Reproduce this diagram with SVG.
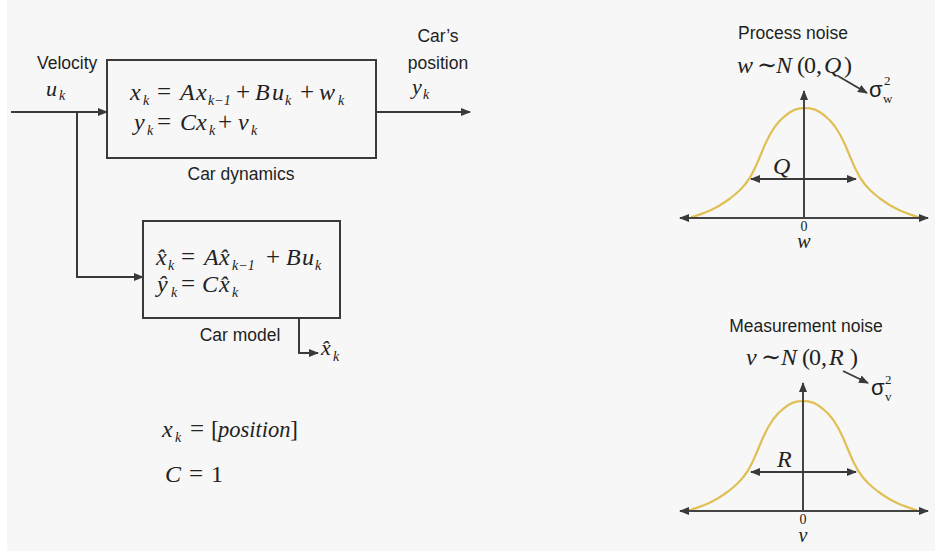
<svg xmlns="http://www.w3.org/2000/svg" width="935" height="551" viewBox="0 0 935 551">
<style>
.bg{fill:#f7f7f7}
.box{fill:none;stroke:#3a3a3a;stroke-width:2}
.ln{fill:none;stroke:#3a3a3a;stroke-width:2}
.ax{fill:none;stroke:#444;stroke-width:2}
.gs{fill:none;stroke:#e0bf55;stroke-width:2.2;stroke-linejoin:round}
.lab{font-family:"Liberation Sans","DejaVu Sans",sans-serif;font-size:17.5px;fill:#1e1e1e}
.m{font-family:"Liberation Serif","DejaVu Serif",serif;font-size:24px;fill:#222}
.i{font-style:italic}
.o{font-size:25px}
.sub{font-size:14px;font-style:italic}
.sg{font-family:"Liberation Sans","DejaVu Sans",sans-serif;font-size:22px;fill:#1e1e1e}
.sm{font-family:"Liberation Serif","DejaVu Serif",serif;font-size:13px;fill:#1e1e1e}
</style>
<defs>
<marker id="ah" viewBox="0 0 10 8" refX="9" refY="4" markerWidth="10" markerHeight="8" markerUnits="userSpaceOnUse" orient="auto-start-reverse">
<path d="M0,0 L10,4 L0,8 z" fill="#3a3a3a"/>
</marker>
<path id="gauss" d="M-114,-0.8 L-110,-1.9 L-105,-3.6 L-100,-5.5 L-95,-7.6 L-90,-10 L-85,-12.8 L-80,-16 L-75,-19.5 L-70,-23.5 L-65,-28 L-60,-33.5 L-55,-40.5 L-50,-50 L-45,-61.5 L-40,-73.5 L-35,-83.5 L-30,-91.5 L-25,-97.5 L-20,-102 L-15,-105.8 L-10,-108.4 L-5,-109.6 L0,-110 L5,-109.6 L10,-108.4 L15,-105.8 L20,-102 L25,-97.5 L30,-91.5 L35,-83.5 L40,-73.5 L45,-61.5 L50,-50 L55,-40.5 L60,-33.5 L65,-28 L70,-23.5 L75,-19.5 L80,-16 L85,-12.8 L90,-10 L95,-7.6 L100,-5.5 L105,-3.6 L110,-1.9 L114,-0.8"/>
</defs>
<rect class="bg" x="0" y="0" width="935" height="551"/>
<rect x="0" y="0" width="7" height="551" fill="#ffffff"/>

<g id="connectors">
<path class="ln" d="M11,112 H107" marker-end="url(#ah)"/>
<path class="ln" d="M77,112 V277 H143" marker-end="url(#ah)"/>
<path class="ln" d="M376,112 H470" marker-end="url(#ah)"/>
<path class="ln" d="M299,318 V353 H318" marker-end="url(#ah)"/>
</g>

<g id="input-label">
<text class="lab" x="37" y="69">Velocity</text>
<text class="m"><tspan class="i" x="46" y="96" font-size="22">u</tspan><tspan class="sub" x="59" y="100" font-size="12">k</tspan></text>
</g>

<g id="output-label">
<text class="lab" x="438" y="42" text-anchor="middle">Car’s</text>
<text class="lab" x="438" y="69" text-anchor="middle">position</text>
<text class="m"><tspan class="i" x="412" y="94" font-size="22">y</tspan><tspan class="sub" x="423" y="99" font-size="12">k</tspan></text>
</g>

<g id="car-dynamics">
<rect class="box" x="107" y="60" width="269" height="98"/>
<text class="m"><tspan class="i" x="130" y="100">x</tspan><tspan class="sub" x="143" y="105">k</tspan><tspan class="o" x="157" y="100">=</tspan><tspan class="i" x="180" y="100">A</tspan><tspan class="i" x="196" y="100">x</tspan><tspan class="sub" x="208" y="105">k−1</tspan><tspan class="o" x="236" y="100">+</tspan><tspan class="i" x="255" y="100">B</tspan><tspan class="i" x="272" y="100">u</tspan><tspan class="sub" x="285" y="105">k</tspan><tspan class="o" x="300" y="100">+</tspan><tspan class="i" x="319" y="100">w</tspan><tspan class="sub" x="338" y="105">k</tspan></text>
<text class="m"><tspan class="i" x="134" y="130">y</tspan><tspan class="sub" x="147" y="135">k</tspan><tspan class="o" x="157" y="130">=</tspan><tspan class="i" x="180" y="130">C</tspan><tspan class="i" x="196" y="130">x</tspan><tspan class="sub" x="209" y="135">k</tspan><tspan class="o" x="218" y="130">+</tspan><tspan class="i" x="238" y="130">v</tspan><tspan class="sub" x="251" y="135">k</tspan></text>
<text class="lab" x="241" y="180" text-anchor="middle" font-size="18">Car dynamics</text>
</g>

<g id="car-model">
<rect class="box" x="143" y="221" width="197" height="97"/>
<text class="m"><tspan class="i" x="156" y="265">x̂</tspan><tspan class="sub" x="168" y="270">k</tspan><tspan class="o" x="181" y="265">=</tspan><tspan class="i" x="204" y="265">A</tspan><tspan class="i" x="219" y="265">x̂</tspan><tspan class="sub" x="232" y="270">k−1</tspan><tspan class="o" x="266" y="265">+</tspan><tspan class="i" x="286" y="265">B</tspan><tspan class="i" x="302" y="265">u</tspan><tspan class="sub" x="315" y="270">k</tspan></text>
<text class="m"><tspan class="i" x="157" y="292">ŷ</tspan><tspan class="sub" x="171" y="297">k</tspan><tspan class="o" x="181" y="292">=</tspan><tspan class="i" x="202" y="292">C</tspan><tspan class="i" x="219" y="292">x̂</tspan><tspan class="sub" x="232" y="297">k</tspan></text>
<text class="lab" x="240" y="341" text-anchor="middle" font-size="18">Car model</text>
<text class="m"><tspan class="i" x="321" y="355" font-size="22">x̂</tspan><tspan class="sub" x="333" y="361" font-size="12">k</tspan></text>
</g>

<g id="definitions">
<text class="m"><tspan class="i" x="162" y="437">x</tspan><tspan class="sub" x="175" y="442">k</tspan><tspan class="o" x="190" y="437">=</tspan><tspan x="211" y="437">[</tspan><tspan class="i" x="218" y="437" font-size="22.5">position</tspan><tspan x="290" y="437">]</tspan></text>
<text class="m"><tspan class="i" x="165" y="482">C</tspan><tspan class="o" x="189" y="482">=</tspan><tspan x="211" y="482">1</tspan></text>
</g>

<g id="process-noise">
<text class="lab" x="793" y="39" text-anchor="middle">Process noise</text>
<text class="m"><tspan class="i" x="737" y="73">w</tspan><tspan x="757" y="73">∼</tspan><tspan class="i" x="776" y="73">N</tspan><tspan x="797" y="73">(</tspan><tspan x="804" y="73">0</tspan><tspan x="816" y="73">,</tspan><tspan class="i" x="824" y="73">Q</tspan><tspan x="844" y="73">)</tspan></text>
<path class="ln" d="M838,76 L867,93" marker-end="url(#ah)" style="stroke-width:1.8"/>
<text class="sg" x="869" y="97">σ</text>
<text class="sm" x="884" y="85">2</text>
<text class="sm" x="883" y="103">w</text>
<use href="#gauss" class="gs" transform="translate(805,218)"/>
<path class="ax" d="M680,218 H928" marker-start="url(#ah)" marker-end="url(#ah)"/>
<path class="ax" d="M804,218 V91" marker-end="url(#ah)"/>
<path class="ln" d="M751,179 H856" marker-start="url(#ah)" marker-end="url(#ah)"/>
<text class="m i" x="773" y="174">Q</text>
<text class="m" text-anchor="middle"><tspan x="804" y="231" font-size="14">0</tspan><tspan class="i" x="804" y="248" font-size="20">w</tspan></text>
</g>

<g id="measurement-noise">
<text class="lab" x="806" y="332" text-anchor="middle">Measurement noise</text>
<text class="m"><tspan class="i" x="746" y="365">v</tspan><tspan x="761" y="365">∼</tspan><tspan class="i" x="781" y="365">N</tspan><tspan x="802" y="365">(</tspan><tspan x="809" y="365">0</tspan><tspan x="821" y="365">,</tspan><tspan class="i" x="829" y="365">R</tspan><tspan x="850" y="365">)</tspan></text>
<path class="ln" d="M843,371 L868,383" marker-end="url(#ah)" style="stroke-width:1.8"/>
<text class="sg" x="871" y="395">σ</text>
<text class="sm" x="885" y="384">2</text>
<text class="sm" x="885" y="401">v</text>
<use href="#gauss" class="gs" transform="translate(803,511)"/>
<path class="ax" d="M680,511 H928" marker-start="url(#ah)" marker-end="url(#ah)"/>
<path class="ax" d="M803,511 V383" marker-end="url(#ah)"/>
<path class="ln" d="M751,472 H856" marker-start="url(#ah)" marker-end="url(#ah)"/>
<text class="m i" x="777" y="467">R</text>
<text class="m" text-anchor="middle"><tspan x="803" y="524" font-size="14">0</tspan><tspan class="i" x="803" y="542" font-size="20">v</tspan></text>
</g>
</svg>
